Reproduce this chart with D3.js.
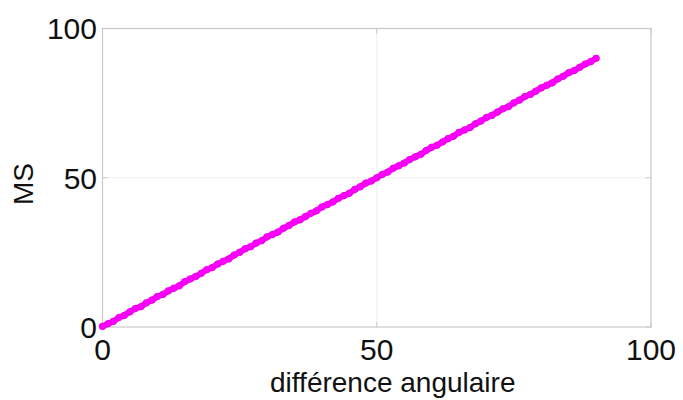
<!DOCTYPE html>
<html><head><meta charset="utf-8">
<script src="https://cdn.jsdelivr.net/npm/d3@7"></script>
<style>body{margin:0;background:#fff;} svg{display:block;}</style>
</head><body>
<svg id="c" width="683" height="400"></svg>
<script>
const xTicks = [0, 50, 100];
const yTicks = [0, 50, 100];
const xLabel = "différence angulaire";
const yLabel = "MS";
const diffAng = d3.range(0, 91, 1);
const msValues = [0.2,1.1,1.9,3.2,3.9,5.1,6.2,6.8,8.1,9.0,10.2,10.9,12.1,13.0,13.8,15.2,16.1,16.9,18.0,19.2,19.9,21.1,22.0,22.8,24.1,25.0,26.2,26.9,28.1,28.9,30.2,31.0,31.8,33.1,34.0,35.2,35.9,37.0,38.1,38.9,40.2,41.0,41.9,43.1,44.0,44.8,46.1,47.0,48.2,48.9,50.0,51.1,51.9,53.2,54.0,54.9,56.1,57.0,57.8,59.1,60.2,60.9,62.0,63.1,63.9,65.2,66.0,66.8,68.1,69.0,70.2,70.9,72.0,73.1,73.8,75.1,76.0,77.2,77.9,79.0,80.1,81.0,81.8,83.1,84.0,85.2,85.9,87.0,88.1,88.9,90.0];

const svg = d3.select("#c");
const x = d3.scaleLinear().domain([0,100]).range([102.5,651]);
const y = d3.scaleLinear().domain([0,100]).range([327,28.5]);
const font = "'Liberation Sans', Arial, Helvetica, sans-serif";

// grid
svg.append("g").selectAll("line.gx").data(xTicks.filter(d=>d>0&&d<100)).join("line")
  .attr("x1",d=>x(d)).attr("x2",d=>x(d)).attr("y1",y(0)).attr("y2",y(100))
  .attr("stroke","#f0f0f0").attr("stroke-width",1);
svg.append("g").selectAll("line.gy").data(yTicks.filter(d=>d>0&&d<100)).join("line")
  .attr("y1",d=>y(d)).attr("y2",d=>y(d)).attr("x1",x(0)).attr("x2",x(100))
  .attr("stroke","#f0f0f0").attr("stroke-width",1);

// frame
svg.append("rect").attr("x",x(0)).attr("y",y(100)).attr("width",x(100)-x(0)).attr("height",y(0)-y(100))
  .attr("fill","none").attr("stroke","#c8c8c8").attr("stroke-width",1.2);

// ticks (inward)
const tk = svg.append("g").attr("stroke","#c8c8c8").attr("stroke-width",1);
xTicks.forEach(d=>{
  tk.append("line").attr("x1",x(d)).attr("x2",x(d)).attr("y1",y(0)).attr("y2",y(0)-5);
  tk.append("line").attr("x1",x(d)).attr("x2",x(d)).attr("y1",y(100)).attr("y2",y(100)+5);
});
yTicks.forEach(d=>{
  tk.append("line").attr("y1",y(d)).attr("y2",y(d)).attr("x1",x(0)).attr("x2",x(0)+5);
  tk.append("line").attr("y1",y(d)).attr("y2",y(d)).attr("x1",x(100)).attr("x2",x(100)-5);
});

// data
const pts = diffAng.map((d,i)=>[d,msValues[i]]);
svg.append("path").datum(pts)
  .attr("d", d3.line().x(d=>x(d[0])).y(d=>y(d[1])))
  .attr("fill","none").attr("stroke","#ff00ff").attr("stroke-width",6).attr("stroke-linejoin","round").attr("stroke-linecap","round");
svg.append("g").selectAll("circle").data(pts).join("circle")
  .attr("cx",d=>x(d[0])).attr("cy",d=>y(d[1])).attr("r",3.3)
  .attr("fill","#ff00ff").attr("stroke","#e600e6").attr("stroke-width",0.8);

// tick labels
svg.append("g").selectAll("text").data(yTicks).join("text")
  .attr("x",97).attr("y",d=>y(d)).attr("dy","0.36em")
  .attr("text-anchor","end").attr("font-family",font).attr("font-size",30).attr("fill","#111")
  .text(d=>d);
svg.append("g").selectAll("text").data(xTicks).join("text")
  .attr("x",d=>x(d)).attr("y",360)
  .attr("text-anchor","middle").attr("font-family",font).attr("font-size",30).attr("fill","#111")
  .text(d=>d);

// axis labels
svg.append("text").attr("x",(x(0)+x(100))/2+16).attr("y",392)
  .attr("text-anchor","middle").attr("font-family",font).attr("font-size",28).attr("fill","#111")
  .text(xLabel);
svg.append("text").attr("transform","translate(33,184) rotate(-90)")
  .attr("text-anchor","middle").attr("font-family",font).attr("font-size",28).attr("fill","#111")
  .text(yLabel);
</script>
</body></html>
